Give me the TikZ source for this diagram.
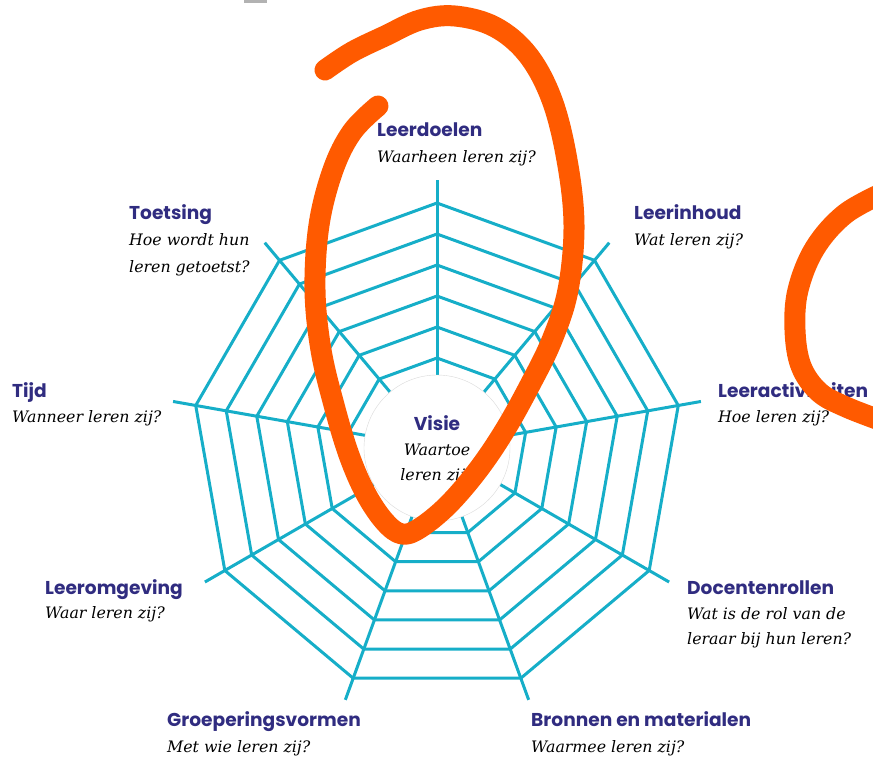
\documentclass[tikz,border=0pt]{standalone}
\usepackage{fontspec}
\setmainfont{DejaVu Serif}
\newfontfamily\kopfont{Poppins}
\definecolor{webblauw}{RGB}{22,174,200}
\definecolor{titelblauw}{RGB}{48,44,128}
\definecolor{stift}{RGB}{255,90,0}
\tikzset{
  web/.style={webblauw, line width=3pt},
  titel/.style={anchor=base west, inner sep=0pt, text=titelblauw,
    font=\kopfont\bfseries\fontsize{18.6}{22}\selectfont},
  vraag/.style={anchor=base west, inner sep=0pt,
    font=\itshape\fontsize{15.8}{19}\selectfont},
  stiftlijn/.style={stift, line width=21pt, line cap=round, line join=round}
}
\begin{document}
\begin{tikzpicture}[x=1pt,y=-1pt]
\useasboundingbox (0,0) rectangle (873,756);
\fill[black!30] (244,0) rectangle (267,3);
% het spinnenweb
\begin{scope}[shift={(437,448)}]
\foreach \r in {90,121,152,183,214,245}
  \draw[web] (90:\r pt) \foreach \k in {1,...,8}{ -- (90-40*\k:\r pt)} -- cycle;
\foreach \k in {0,...,8}
  \draw[web] (90-40*\k:73pt) -- (90-40*\k:268pt);
\end{scope}
\node[circle, fill=white, draw=black!15, line width=0.4pt, minimum size=146pt, inner sep=0pt] (visie) at (437,448) {};
\node[titel, anchor=base] (visiet) at (437,430) {Visie};
\node[vraag, anchor=base] (visieq1) at (437,455) {Waartoe};
\node[vraag, anchor=base] (visieq2) at (437,480) {leren zij?};
% de labels
\node[titel] (leerdoelen) at (377,136) {Leerdoelen};
\node[vraag] (leerdoelenq) at (377,162) {Waarheen leren zij?};
\node[titel] (leerinhoud) at (634,219) {Leerinhoud};
\node[vraag] (leerinhoudq) at (634,245) {Wat leren zij?};
\node[titel] (leeractiviteiten) at (718,397) {Leeractiviteiten};
\node[vraag] (leeractiviteitenq) at (718,422) {Hoe leren zij?};
\node[titel] (docentenrollen) at (687,594) {Docentenrollen};
\node[vraag] (docentenrollenq1) at (687,619) {Wat is de rol van de};
\node[vraag] (docentenrollenq2) at (687,644) {leraar bij hun leren?};
\node[titel] (bronnen) at (531,726) {Bronnen en materialen};
\node[vraag] (bronnenq) at (531,752) {Waarmee leren zij?};
\node[titel] (groepering) at (167,726) {Groeperingsvormen};
\node[vraag] (groeperingq) at (167,752) {Met wie leren zij?};
\node[titel] (leeromgeving) at (45,594) {Leeromgeving};
\node[vraag] (leeromgevingq) at (45,618) {Waar leren zij?};
\node[titel] (tijd) at (12,397) {Tijd};
\node[vraag] (tijdq) at (12,422) {Wanneer leren zij?};
\node[titel] (toetsing) at (129,219) {Toetsing};
\node[vraag] (toetsingq1) at (129,245) {Hoe wordt hun};
\node[vraag] (toetsingq2) at (129,272) {leren getoetst?};
% stiftkrassen
\draw[stiftlijn] plot[smooth, tension=0.6] coordinates {(325,70) (352,52) (385,36) (420,20) (455,16) (495,27) (528,55) (552,100) (567,160) (574,225) (568,290) (552,340) (530,385) (505,430) (478,470) (448,505) (420,528) (402,534) (385,522) (366,494) (349,455) (334,405) (321,350) (315,290) (319,225) (333,170) (352,132) (378,106)};
\draw[stiftlijn] plot[smooth, tension=0.6] coordinates {(885,192) (845,214) (815,248) (798,290) (795,330) (801,366) (819,392) (846,407) (885,422)};
\end{tikzpicture}
\end{document}
